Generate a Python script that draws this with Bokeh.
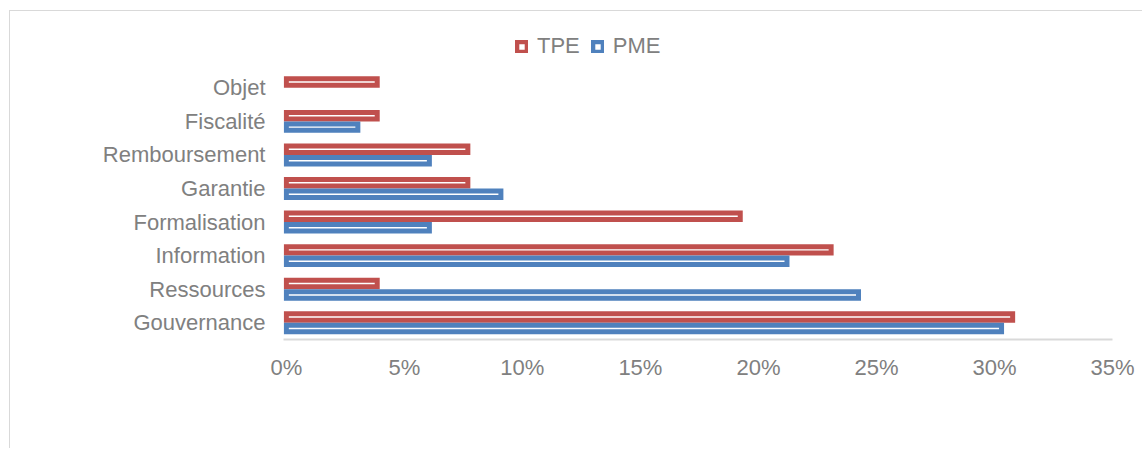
from bokeh.plotting import figure
from bokeh.models import (ColumnDataSource, Range1d, FixedTicker, PrintfTickFormatter,
                          Legend, LegendItem)
from bokeh.transform import dodge
from bokeh.embed import file_html
from bokeh.resources import INLINE

categories = ["Gouvernance", "Ressources", "Information", "Formalisation",
              "Garantie", "Remboursement", "Fiscalité", "Objet"]
tpe = [30.77, 3.85, 23.08, 19.23, 7.69, 7.69, 3.85, 3.85]
pme = [30.30, 24.24, 21.21, 6.06, 9.09, 6.06, 3.03, 0.0]
ticks = [0, 5, 10, 15, 20, 25, 30, 35]

RED = "#C0504D"
BLUE = "#4F81BD"
GRAY = "#808080"
FONT = "Liberation Sans"
FS = "22px"

ypos = list(range(len(categories)))

p = figure(width=1133, height=438, output_backend="svg", toolbar_location=None,
           x_range=Range1d(-0.12, 35), y_range=Range1d(-0.5, len(categories) + 0.5),
           min_border_left=273, min_border_right=31, min_border_top=26, min_border_bottom=110)
p.styles = {"margin-left": "9px", "margin-top": "10px",
            "border-left": "1px solid #d9d9d9", "border-top": "1px solid #d9d9d9"}
p.outline_line_color = None
p.xgrid.grid_line_color = None
p.ygrid.grid_line_color = None

def src(vals):
    keep = [i for i, v in enumerate(vals) if v > 0]
    return ColumnDataSource(dict(y=[ypos[i] for i in keep], v=[vals[i] for i in keep]))

bh = 0.193
rt = p.hbar(y=dodge("y", 0.171), left=0, right="v", height=bh,
            fill_color="white", line_color=RED, line_width=5, line_join="miter", source=src(tpe))
rp = p.hbar(y=dodge("y", -0.171), left=0, right="v", height=bh,
            fill_color="white", line_color=BLUE, line_width=5, line_join="miter", source=src(pme))

legend = Legend(items=[LegendItem(label="TPE", renderers=[rt]), LegendItem(label="PME", renderers=[rp])],
                orientation="horizontal", location=(232, 280), padding=0, margin=0,
                border_line_color=None, background_fill_alpha=0,
                glyph_width=13, glyph_height=13, label_standoff=9, spacing=11,
                label_text_font=FONT, label_text_font_size=FS, label_text_color=GRAY)
p.add_layout(legend, "center")

p.xaxis.ticker = FixedTicker(ticks=ticks)
p.xaxis.formatter = PrintfTickFormatter(format="%d%%")
p.xaxis.axis_line_color = "#d9d9d9"
p.xaxis.axis_line_width = 2
p.xaxis.major_tick_line_color = None
p.xaxis.minor_tick_line_color = None
p.xaxis.major_tick_out = 0
p.xaxis.major_tick_in = 0
p.xaxis.major_label_standoff = 15
p.xaxis.major_label_text_font = FONT
p.xaxis.major_label_text_font_size = FS
p.xaxis.major_label_text_color = GRAY

p.yaxis.ticker = FixedTicker(ticks=ypos)
p.yaxis.major_label_overrides = {i: c for i, c in zip(ypos, categories)}
p.yaxis.axis_line_color = None
p.yaxis.major_tick_line_color = None
p.yaxis.minor_tick_line_color = None
p.yaxis.major_tick_out = 0
p.yaxis.major_tick_in = 0
p.yaxis.major_label_standoff = 18
p.yaxis.major_label_text_font = FONT
p.yaxis.major_label_text_font_size = FS
p.yaxis.major_label_text_color = GRAY

open("out.html", "w").write(file_html(p, INLINE))
